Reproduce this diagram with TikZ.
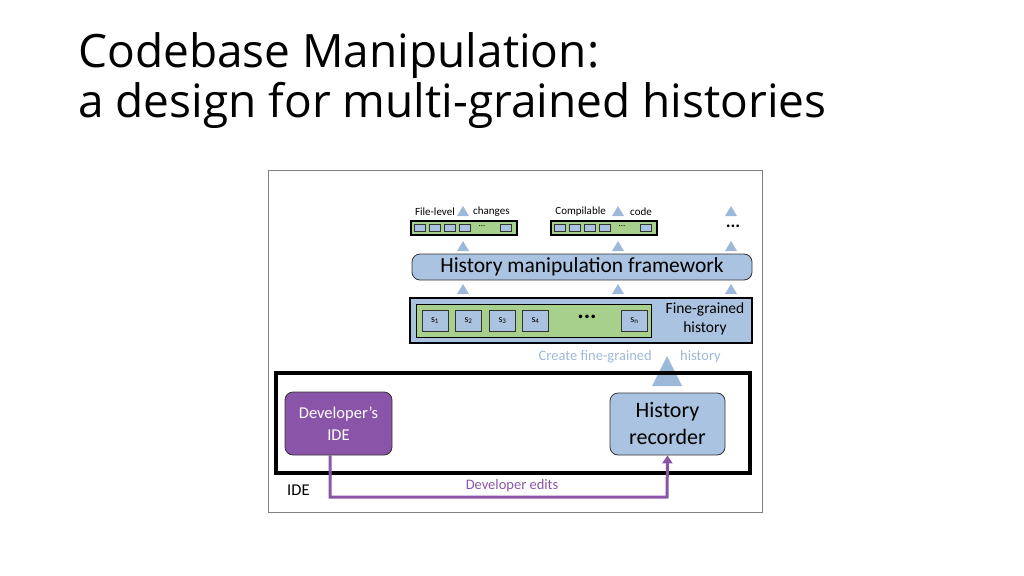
\documentclass[tikz,border=0pt]{standalone}
\usepackage{fontspec}
\setmainfont{Carlito}
\newfontfamily\titlefont{Open Sans}
\usetikzlibrary{positioning,arrows.meta}
\definecolor{hblue}{HTML}{A9C3E0}
\definecolor{tblue}{HTML}{9DB9D9}
\definecolor{hgreen}{HTML}{A8D08D}
\definecolor{hpurple}{HTML}{8A55A8}
\begin{document}
\begin{tikzpicture}[x=1pt,y=-1pt,
        boxnode/.style={rectangle, rounded corners=8pt, draw=black!80, fill=hblue, thick, inner sep=0pt},
        stepnode/.style={rectangle, draw=black!80, fill=hblue, thick, minimum width=26pt, minimum height=21pt, inner sep=0pt, font=\fontsize{10}{10}\selectfont},
        tinynode/.style={rectangle, draw=black!80, fill=hblue, thin, minimum width=11pt, minimum height=7pt, inner sep=0pt},
        uptri/.style={fill=tblue, draw=none},
        lbl/.style={font=\fontsize{11}{12}\selectfont, inner sep=0pt}
    ]
    \useasboundingbox (0,0) rectangle (1024,575);

    % title
    \node[anchor=north west, align=left, inner sep=0pt, font=\titlefont\fontsize{46}{50}\selectfont] (title) at (78,32)
        {Codebase Manipulation:\\a design for multi-grained histories};

    % frame
    \draw[black!50] (268,170) rectangle (762,512);

    % top bars
    \foreach \bx/\nm in {410/barA, 550/barB} {
        \node[rectangle, draw=black, fill=hgreen, very thick, minimum width=106pt, minimum height=14pt, inner sep=0pt] (\nm) at (\bx+54,228) {};
        \foreach \k in {0,1,2,3} \node[tinynode] at (\bx+10+\k*15,228) {};
        \node[font=\fontsize{9}{9}\selectfont, inner sep=0pt] at (\bx+72,226) {...};
        \node[tinynode] at (\bx+96,228) {};
    }
    \node[lbl, anchor=east] (filelvl) at (455,212) {File-level};
    \node[lbl, anchor=west] (changes) at (473,212) {changes};
    \node[lbl, anchor=east] (compil) at (606,212) {Compilable};
    \node[lbl, anchor=west] (code) at (630,212) {code};
    \node[font=\fontsize{18}{18}\selectfont\bfseries, inner sep=0pt] (topdots) at (733,226) {...};

    % small triangles
    \foreach \tx in {463,618,731} {
        \foreach \ty in {206,241,284} \fill[uptri] (\tx-6,\ty+10) -- (\tx,\ty) -- (\tx+6,\ty+10) -- cycle;
    }

    % framework
    \node[boxnode, minimum width=340pt, minimum height=26pt, font=\fontsize{21.5}{24}\selectfont] (frame) at (582,267) {History manipulation framework};

    % fine-grained history
    \node[rectangle, draw=black, fill=hblue, line width=2pt, minimum width=342pt, minimum height=45pt, inner sep=0pt] (fine) at (581,320.5) {};
    \node[rectangle, draw=black, fill=hgreen, thick, minimum width=235pt, minimum height=33pt, inner sep=0pt] (steps) at (533.5,320.5) {};
    \node[stepnode] (s1) at (435,320.5) {s\textsubscript{1}};
    \node[stepnode] (s2) at (468.5,320.5) {s\textsubscript{2}};
    \node[stepnode] (s3) at (502.5,320.5) {s\textsubscript{3}};
    \node[stepnode] (s4) at (535.5,320.5) {s\textsubscript{4}};
    \node[font=\fontsize{24}{24}\selectfont\bfseries, inner sep=0pt] (sdots) at (587,317) {...};
    \node[stepnode] (sn) at (634.5,320.5) {s\textsubscript{n}};
    \node[align=center, font=\fontsize{15.5}{19}\selectfont, inner sep=0pt] (finelbl) at (705,319) {Fine-grained\\history};

    \node[lbl, anchor=east, text=tblue, font=\fontsize{14.5}{15}\selectfont] (create) at (652,357) {Create fine-grained};
    \node[lbl, anchor=west, text=tblue, font=\fontsize{14.5}{15}\selectfont] (histw) at (680,357) {history};
    \fill[uptri] (652,386) -- (667,356) -- (682,386) -- cycle;

    % IDE
    \node[rectangle, draw=black, line width=4pt, minimum width=474pt, minimum height=100pt, inner sep=0pt] (ide) at (513,423) {};
    \node[lbl, font=\fontsize{16.5}{18}\selectfont, anchor=west] (idelbl) at (287,490) {IDE};
    \node[boxnode, fill=hpurple, text=white, align=center, minimum width=107pt, minimum height=63pt, font=\fontsize{16.5}{22}\selectfont] (dev) at (338.5,423.5) {Developer's\\IDE};
    \node[boxnode, align=center, minimum width=115pt, minimum height=62pt, font=\fontsize{22}{27}\selectfont] (rec) at (667.5,424) {History\\recorder};

    \draw[hpurple, line width=3pt, -{Triangle[length=8pt,width=10pt]}] (dev.south -| 330,0) -- (330,497) -- (667,497) -- (rec.south);
    \node[lbl, text=hpurple, font=\fontsize{14.5}{15}\selectfont] (edits) at (512,486) {Developer edits};
\end{tikzpicture}
\end{document}
